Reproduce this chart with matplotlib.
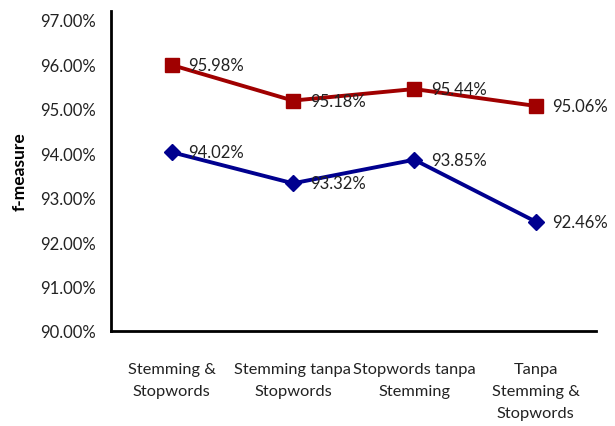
import matplotlib
matplotlib.use("Agg")
from matplotlib import pyplot as plt, ticker

categories = ["Stemming &\nStopwords", "Stemming tanpa\nStopwords",
              "Stopwords tanpa\nStemming", "Tanpa\nStemming &\nStopwords"]
series_red = [95.98, 95.18, 95.44, 95.06]
series_blue = [94.02, 93.32, 93.85, 92.46]
y_ticks = [90, 91, 92, 93, 94, 95, 96, 97]

plt.rcParams["font.family"] = ["Lato", "DejaVu Sans"]
RED = "#a00000"
BLUE = "#00008f"

fig = plt.figure(figsize=(6.15, 4.27), dpi=100)
ax = fig.add_axes([0.1805, 0.2225, 0.789, 0.75])

x = list(range(len(categories)))
ax.plot(x, series_red, color=RED, lw=2.8, marker="s", ms=10.5, zorder=3)
ax.plot(x, series_blue, color=BLUE, lw=2.8, marker="D", ms=8, zorder=3)

# data labels to the right of each point
for xi, v in zip(x, series_red):
    ax.annotate(f"{v:.2f}%", (xi, v), xytext=(12, 0), textcoords="offset points",
                va="center", ha="left", fontsize=12, color="#222222")
for xi, v in zip(x, series_blue):
    ax.annotate(f"{v:.2f}%", (xi, v), xytext=(12, 0), textcoords="offset points",
                va="center", ha="left", fontsize=12, color="#222222")

ax.set_xlim(-0.5, 3.5)
ax.set_ylim(90, 97.2)
ax.set_yticks(y_ticks)
ax.yaxis.set_major_formatter(ticker.FuncFormatter(lambda v, p: f"{v:.2f}%"))
ax.set_xticks(x)
ax.set_xticklabels(categories, linespacing=1.75)
ax.tick_params(axis="y", length=0, pad=11, labelsize=12, labelcolor="#222222")
ax.tick_params(axis="x", length=0, pad=22, labelsize=11.8, labelcolor="#222222")

for s in ["top", "right"]:
    ax.spines[s].set_visible(False)
ax.spines["left"].set_linewidth(2)
ax.spines["bottom"].set_linewidth(2)

ax.set_ylabel("f-measure", fontweight="bold", fontsize=12.5, labelpad=9)

fig.savefig("out.png", dpi=100)
